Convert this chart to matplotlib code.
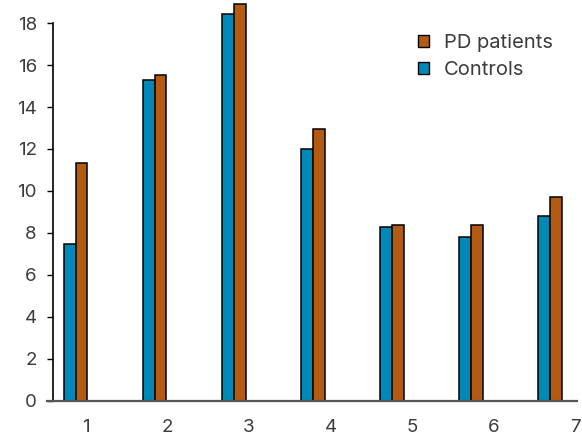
import numpy as np
import matplotlib
matplotlib.use("Agg")
from matplotlib import pyplot as plt
from matplotlib.patches import Patch

# --- data
groups = [1, 2, 3, 4, 5, 6, 7]
tick_labels = ["1", "2", "3", "4", "5", "6", "7"]
controls = [7.48, 15.29, 18.43, 12.02, 8.27, 7.79, 8.83]
pd_patients = [11.32, 15.54, 18.89, 12.94, 8.37, 8.37, 9.71]

blue = "#0088b6"
orange = "#b35b13"
text_col = "#3c3c3c"

plt.rcParams["font.family"] = ["Inter", "DejaVu Sans"]
plt.rcParams["font.weight"] = "normal"

fig = plt.figure(figsize=(5.82, 4.36), dpi=100)
ax = fig.add_axes([0.0808, 0.0803, 0.9106, 0.9151])

x = np.array(groups, dtype=float)
w = 0.15
ax.bar(x - w / 2, controls, width=w, color=blue, edgecolor="black", linewidth=1.1, label="Controls")
ax.bar(x + w / 2, pd_patients, width=w, color=orange, edgecolor="black", linewidth=1.1, label="PD patients")

ax.set_xlim(0.64, 7.34)
ax.set_ylim(0, 19)

# tick labels sit a little to the right of the bar pairs in the original
tick_pos = np.linspace(1.13, 7.32, len(groups))
ax.set_xticks(tick_pos)
ax.set_xticklabels(tick_labels)
ax.set_yticks(np.arange(0, 19, 2))

ax.tick_params(axis="x", length=0, pad=13, labelsize=13.5, labelcolor=text_col)
ax.tick_params(axis="y", length=4.3, width=1.0, pad=7, labelsize=13.5, labelcolor=text_col)

# --- spines
for side in ["top", "right"]:
    ax.spines[side].set_visible(False)
ax.spines["left"].set_position(("data", 0.71))
ax.spines["left"].set_bounds(0, 18)
ax.spines["left"].set_linewidth(1.2)
ax.spines["bottom"].set_color("#555555")
ax.spines["bottom"].set_linewidth(1.6)

handles = [
    Patch(facecolor=orange, edgecolor="black", linewidth=1.0, label="PD patients"),
    Patch(facecolor=blue, edgecolor="black", linewidth=1.0, label="Controls"),
]
leg = ax.legend(handles=handles, loc="upper left", bbox_to_anchor=(0.665, 0.965),
                frameon=False, handlelength=0.55, handleheight=0.55, handletextpad=0.75,
                labelspacing=0.45, prop={"size": 14.5})
for t in leg.get_texts():
    t.set_color(text_col)

fig.savefig("out.png", dpi=100)
